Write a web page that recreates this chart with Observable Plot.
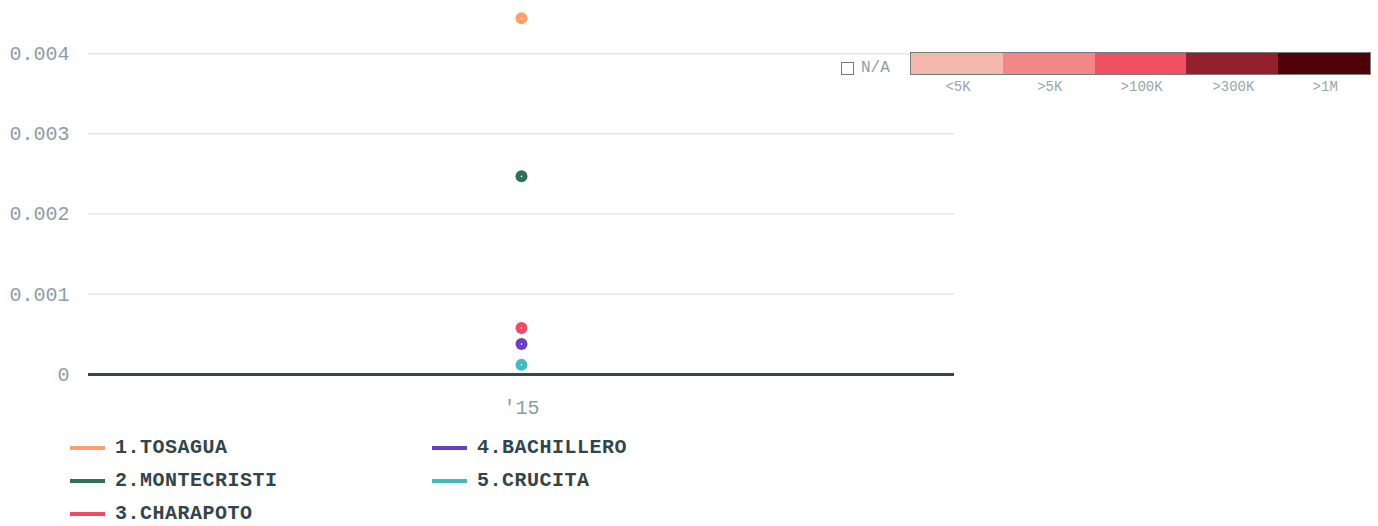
<!DOCTYPE html>
<html>
<head>
<meta charset="utf-8">
<script src="https://cdn.jsdelivr.net/npm/d3@7"></script>
<script src="https://cdn.jsdelivr.net/npm/@observablehq/plot@0.6"></script>
<style>
  html, body { margin: 0; padding: 0; background: #fff; }
  body { width: 1378px; height: 526px; position: relative; overflow: hidden; font-family: "Liberation Mono", "DejaVu Sans Mono", monospace; }
  #chart { position: absolute; left: 0; top: 0; }
  #scale { position: absolute; left: 840px; top: 52px; }
  #legend { position: absolute; left: 70px; top: 436px; width: 800px; }
  .lg-item { position: absolute; display: flex; align-items: center; font-weight: bold; font-size: 20px; color: #34444c; letter-spacing: 0.5px; }
  .lg-sw { width: 35px; height: 4px; margin-right: 10px; }
</style>
</head>
<body>
<div id="chart"></div>
<div id="scale"></div>
<div id="legend"></div>
<script>
const years = ["'15"];
const towns = ["1.TOSAGUA", "2.MONTECRISTI", "3.CHARAPOTO", "4.BACHILLERO", "5.CRUCITA"];
const values = [0.00444, 0.00247, 0.00058, 0.00038, 0.00012];
const colors = ["#ffa071", "#2e7156", "#ee4c64", "#6b3ec6", "#40bcbe"];
const yTicks = [0, 0.001, 0.002, 0.003, 0.004];
const bins = ["<5K", ">5K", ">100K", ">300K", ">1M"];
const binColors = ["#f4b8ae", "#f08888", "#ef5064", "#92202e", "#4f0009"];

const data = towns.map((t, i) => ({town: t, year: years[0], value: values[i]}));

const chart = Plot.plot({
  width: 1378,
  height: 420,
  marginLeft: 88,
  marginRight: 424,
  marginTop: 5,
  marginBottom: 46,
  style: {fontFamily: "Liberation Mono, DejaVu Sans Mono, monospace", fontSize: "20px", color: "#8f9ca2", background: "#fff"},
  x: {type: "point", domain: years, label: null, tickSize: 0, tickPadding: 25},
  y: {domain: [0, 0.0046], ticks: yTicks, tickFormat: d => d === 0 ? "0" : d3.format(".3f")(d), label: null, tickSize: 0, tickPadding: 19},
  color: {domain: towns, range: colors},
  marks: [
    Plot.gridY(yTicks.filter(d => d > 0), {stroke: "#e6e6e6", strokeOpacity: 1, strokeWidth: 1.5}),
    Plot.ruleY([0], {stroke: "#37474f", strokeWidth: 3}),
    Plot.dot(data, {x: "year", y: "value", fill: "town", r: 6}),
    Plot.dot(data, {x: "year", y: "value", fill: "#fff", r: 0.8})
  ]
});
document.getElementById("chart").appendChild(chart);

// colour-scale legend (top right)
const sc = document.getElementById("scale");
const na = d3.select(sc).append("div").style("position", "absolute").style("left", "1px").style("top", "7px")
  .style("display", "flex").style("align-items", "center").style("font-size", "16px").style("color", "#8f9ca2");
na.append("div").style("width", "11px").style("height", "11px").style("border", "1.5px solid #6e7e85").style("margin-right", "7px");
na.append("span").text("N/A");
const bar = d3.select(sc).append("div").style("position", "absolute").style("left", "70px").style("top", "0px")
  .style("display", "flex").style("border", "1.5px solid #6e7e85").style("width", "459px").style("height", "21px");
bins.forEach((b, i) => {
  bar.append("div").style("flex", "1").style("background", binColors[i]);
});
bins.forEach((b, i) => {
  d3.select(sc).append("div").style("position", "absolute").style("left", (72 + i * 91.8) + "px").style("width", "92px")
    .style("top", "27px").style("text-align", "center").style("font-size", "14px").style("color", "#9aa6ac").text(b);
});

// series legend (bottom)
const lg = d3.select("#legend");
towns.forEach((t, i) => {
  const col = Math.floor(i / 3), row = i % 3;
  const it = lg.append("div").attr("class", "lg-item").style("left", (col * 362) + "px").style("top", (row * 33) + "px");
  it.append("div").attr("class", "lg-sw").style("background", colors[i]);
  it.append("span").text(t);
});
</script>
</body>
</html>
